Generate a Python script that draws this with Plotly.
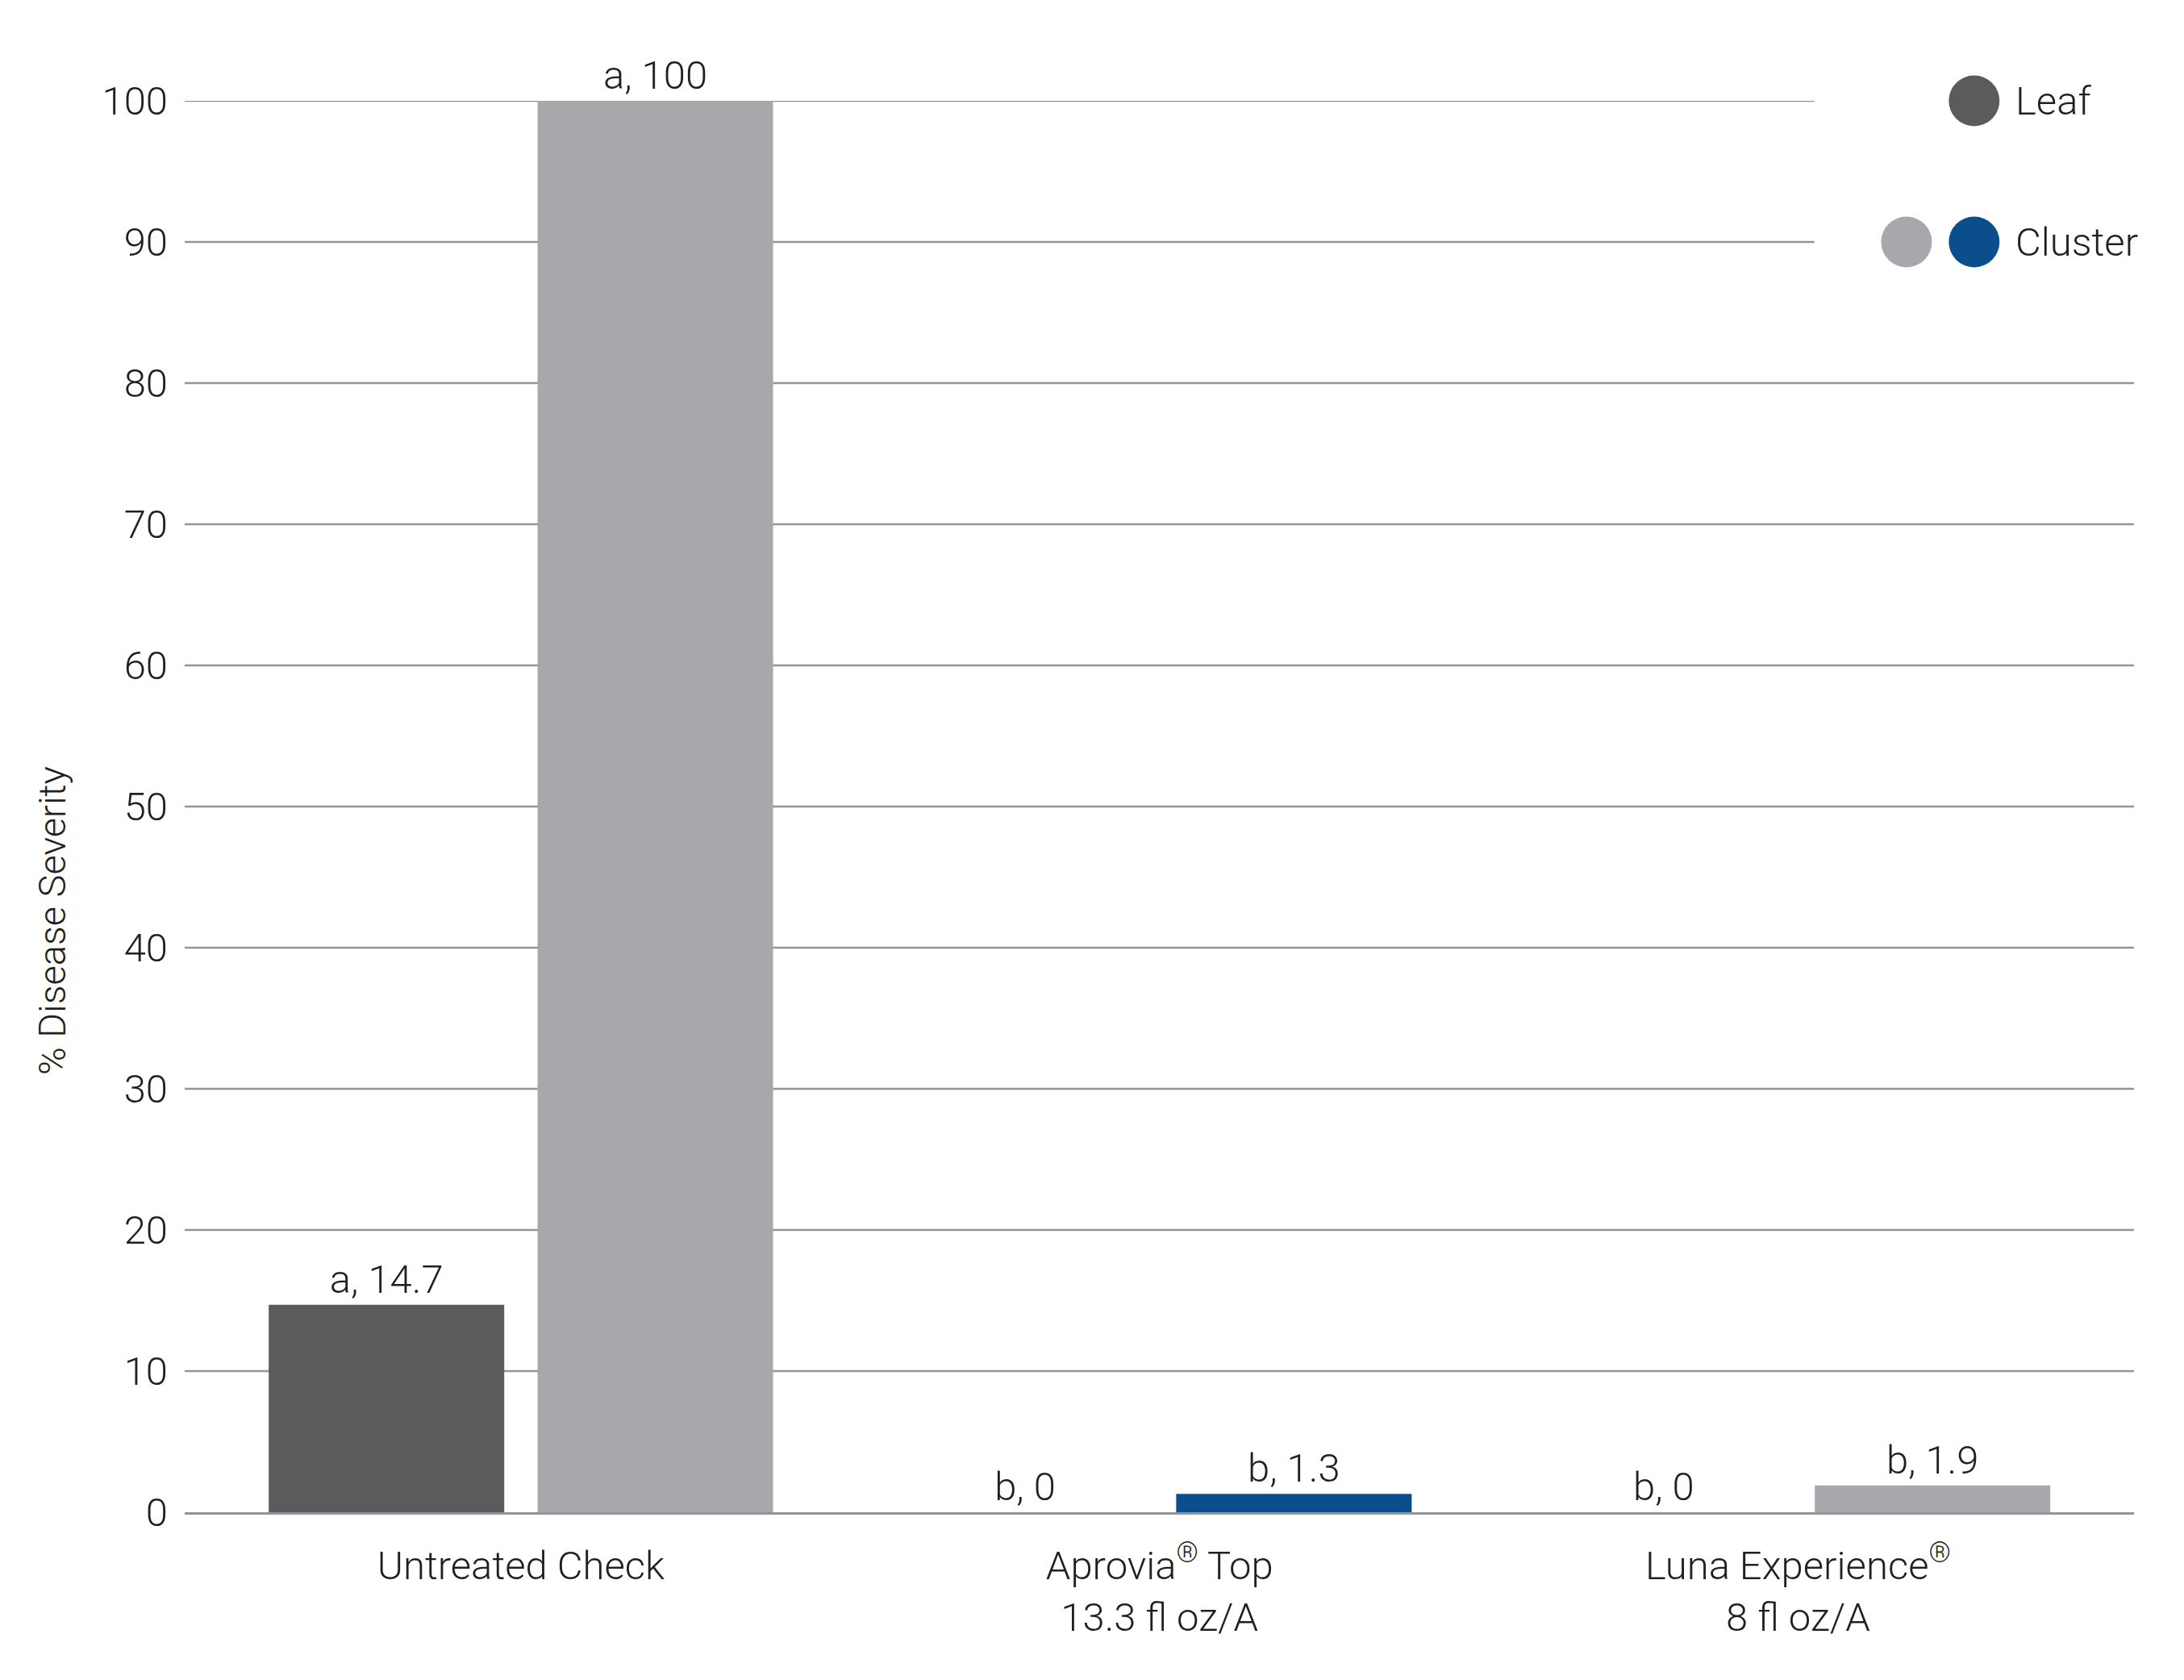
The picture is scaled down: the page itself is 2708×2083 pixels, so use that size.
import plotly.graph_objects as go

# Data
treatments = ["Untreated Check",
              "Aprovia<sup>®</sup> Top<br>13.3 fl oz/A",
              "Luna Experience<sup>®</sup><br>8 fl oz/A"]
leaf_values = [14.7, 0, 0]
leaf_letters = ["a", "b", "b"]
cluster_values = [100, 1.3, 1.9]
cluster_letters = ["a", "b", "b"]
y_ticks = [0, 10, 20, 30, 40, 50, 60, 70, 80, 90, 100]

# Colours
leaf_color = "#5a5b5d"
cluster_grey = "#a7a8ab"
cluster_blue = "#0a4f8c"
cluster_colors = [cluster_grey, cluster_blue, cluster_grey]
text_color = "#231f20"
grid_color = "#939598"
font_family = "Roboto, 'Liberation Sans', Arial, sans-serif"
fsize = 49

leaf_text = [f"{l}, {v:g}" for l, v in zip(leaf_letters, leaf_values)]
cluster_text = [f"{l}, {v:g}" for l, v in zip(cluster_letters, cluster_values)]

fig = go.Figure()
fig.add_trace(go.Bar(x=treatments, y=leaf_values, name="Leaf",
                     marker=dict(color=leaf_color, line=dict(width=0)),
                     text=leaf_text, textposition="outside", cliponaxis=False,
                     constraintext="none",
                     textfont=dict(size=fsize, color=text_color, family=font_family, weight=300)))
fig.add_trace(go.Bar(x=treatments, y=cluster_values, name="Cluster",
                     marker=dict(color=cluster_colors, line=dict(width=0)),
                     text=cluster_text, textposition="outside", cliponaxis=False,
                     constraintext="none",
                     textfont=dict(size=fsize, color=text_color, family=font_family, weight=300)))

# Gridlines (shortened at the top to leave room for the legend)
legend_cut = 0.836
shapes = []
for t in y_ticks[1:]:
    shapes.append(dict(type="line", xref="paper", yref="y", x0=0,
                       x1=legend_cut if t >= 90 else 1, y0=t, y1=t,
                       line=dict(color=grid_color, width=2.5), layer="below"))

# Legend circles (paper coords so they are not clipped)
legend_x = 0.918
legend_x2 = 0.8833
for xx, yy, col in [(legend_x, 1.0, leaf_color), (legend_x2, 0.9, cluster_grey), (legend_x, 0.9, cluster_blue)]:
    shapes.append(dict(type="circle", xref="paper", yref="paper", xsizemode="pixel", ysizemode="pixel",
                       xanchor=xx, yanchor=yy, x0=-31.5, x1=31.5, y0=-31.5, y1=31.5,
                       fillcolor=col, line=dict(width=0)))

annotations = [
    dict(text="Leaf", xref="paper", yref="paper", x=0.9383, y=1.0, xanchor="left", yanchor="middle",
         showarrow=False, font=dict(size=fsize, color=text_color, family=font_family, weight=300)),
    dict(text="Cluster", xref="paper", yref="paper", x=0.9383, y=0.9, xanchor="left", yanchor="middle",
         showarrow=False, font=dict(size=fsize, color=text_color, family=font_family, weight=300)),
    dict(text="% Disease Severity", xref="paper", yref="paper", x=-0.0678, y=0.419,
         xanchor="center", yanchor="middle", textangle=-90, showarrow=False,
         font=dict(size=fsize - 2, color=text_color, family=font_family, weight=300)),
]

# page body has an 8px margin, so the figure is made 8px smaller on each axis
fig.update_layout(
    width=2700, height=2075,
    margin=dict(l=221, r=62, t=117, b=208),
    plot_bgcolor="white", paper_bgcolor="white",
    barmode="group", bargap=0.158, bargroupgap=0.124,
    showlegend=False,
    font=dict(family=font_family, size=fsize, color=text_color, weight=300),
    shapes=shapes, annotations=annotations,
    xaxis=dict(range=[-0.5265, 2.526], showgrid=False, zeroline=False,
               showline=True, linecolor=grid_color, linewidth=3,
               ticks="", ticklabelstandoff=21,
               tickfont=dict(size=fsize, color=text_color, family=font_family, weight=300)),
    yaxis=dict(range=[0, 100], tickvals=y_ticks, showgrid=False, zeroline=False,
               showline=False, ticks="", ticklabelstandoff=20,
               tickfont=dict(size=fsize, color=text_color, family=font_family, weight=300)),
)

fig.write_html("out.html")
